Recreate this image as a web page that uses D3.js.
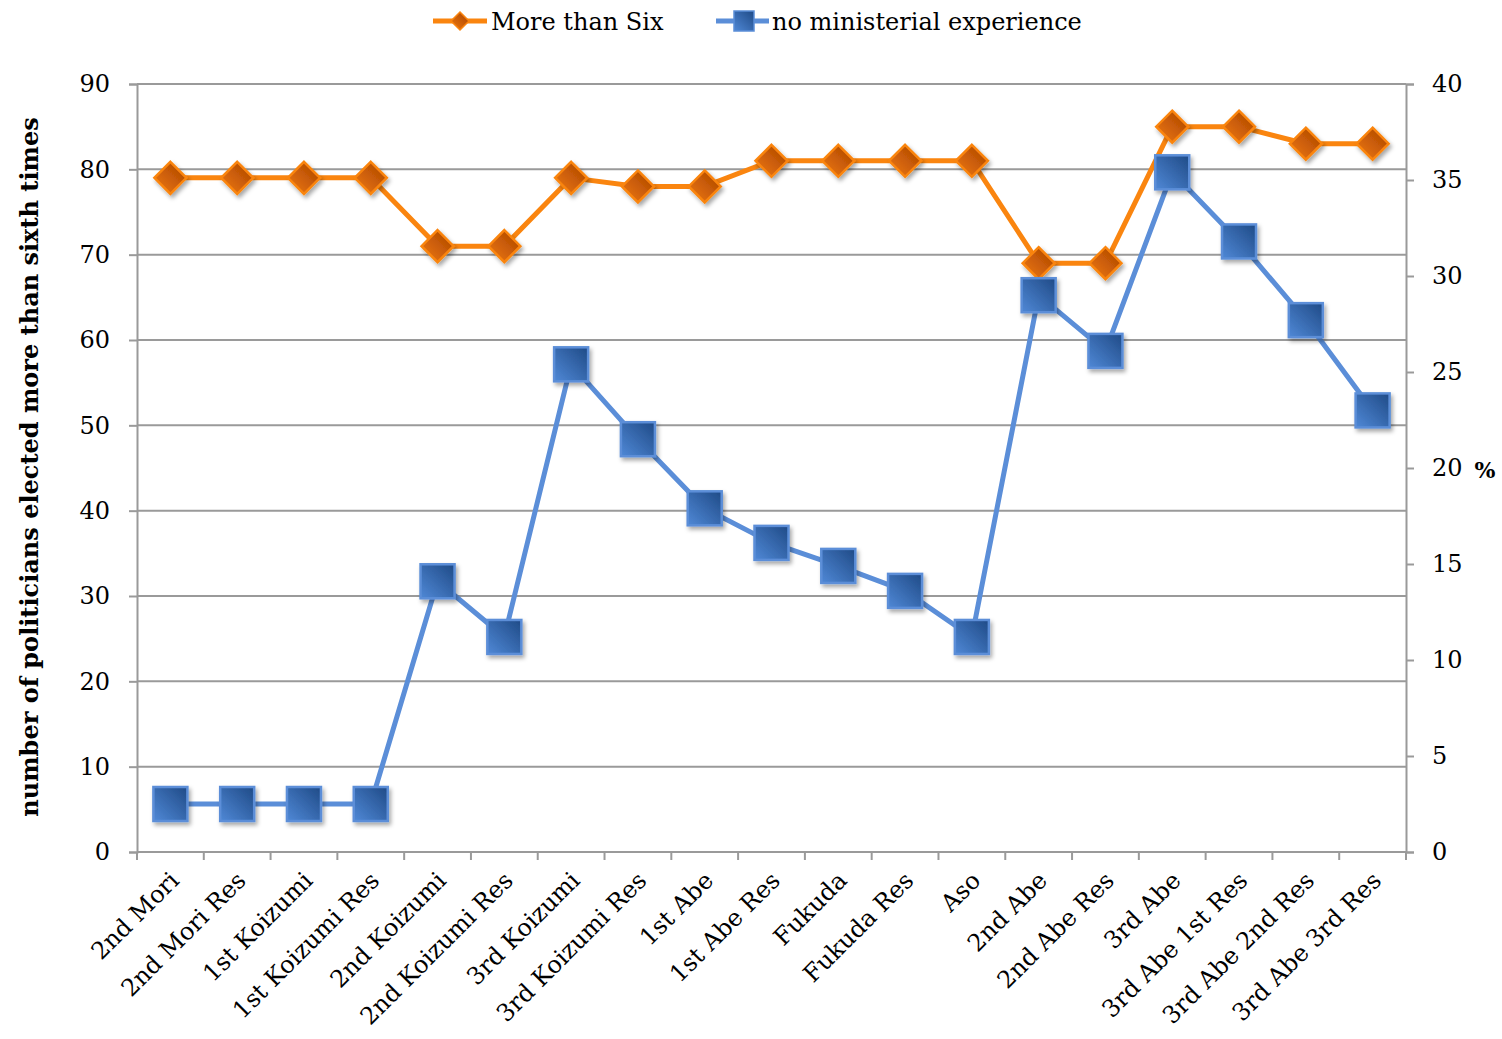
<!DOCTYPE html>
<html><head><meta charset="utf-8">
<script src="https://cdn.jsdelivr.net/npm/d3@7"></script>
<style>body{margin:0;background:#fff}svg{display:block}</style>
</head><body>
<svg id="chart" width="1502" height="1039"></svg>
<script>
const categories = ["2nd Mori","2nd Mori Res","1st Koizumi","1st Koizumi Res","2nd Koizumi","2nd Koizumi Res","3rd Koizumi","3rd Koizumi Res","1st Abe","1st Abe Res","Fukuda","Fukuda Res","Aso","2nd Abe","2nd Abe Res","3rd Abe","3rd Abe 1st Res","3rd Abe 2nd Res","3rd Abe 3rd Res"];
const moreThanSix = [79,79,79,79,71,71,79,78,78,81,81,81,81,69,69,85,85,83,83];
const noMinisterial = [2.5,2.5,2.5,2.5,14.1,11.2,25.4,21.5,17.9,16.1,14.9,13.6,11.2,29.0,26.1,35.4,31.8,27.7,23.0];
const leftTicks = [0,10,20,30,40,50,60,70,80,90];
const rightTicks = [0,5,10,15,20,25,30,35,40];
const seriesNames = ["More than Six","no ministerial experience"];

const svg = d3.select("#chart");
const font = "'DejaVu Serif', 'Liberation Serif', serif";
const m = {l:137, r:1406, t:84, b:852};
const x = d3.scaleBand().domain(categories).range([m.l, m.r]).padding(0);
const yL = d3.scaleLinear().domain([0,90]).range([m.b, m.t]);
const yR = d3.scaleLinear().domain([0,40]).range([m.b, m.t]);
const grid = "#9a9a9a";
const orange = "#FA850F", blue = "#5B8ED8";

const defs = svg.append("defs");
const gO = defs.append("linearGradient").attr("id","gO").attr("x1","0").attr("y1","1").attr("x2","1").attr("y2","0");
gO.append("stop").attr("offset","0").attr("stop-color","#F07A10");
gO.append("stop").attr("offset","1").attr("stop-color","#A84200");
const gB = defs.append("linearGradient").attr("id","gB").attr("x1","0").attr("y1","1").attr("x2","1").attr("y2","0");
gB.append("stop").attr("offset","0").attr("stop-color","#4F88D6");
gB.append("stop").attr("offset","1").attr("stop-color","#1F4A86");
const f = defs.append("filter").attr("id","sh").attr("x","-50%").attr("y","-50%").attr("width","200%").attr("height","200%");
f.append("feDropShadow").attr("dx",2).attr("dy",3).attr("stdDeviation",2).attr("flood-color","#000").attr("flood-opacity",0.35);

// gridlines
svg.append("g").selectAll("line").data(leftTicks).join("line")
  .attr("x1", m.l).attr("x2", m.r).attr("y1", d=>yL(d)).attr("y2", d=>yL(d))
  .attr("stroke", grid).attr("stroke-width", 2);

// left axis
const axL = svg.append("g").attr("transform",`translate(${m.l},0)`)
  .call(d3.axisLeft(yL).tickValues(leftTicks).tickSize(8).tickPadding(19));
axL.select(".domain").attr("stroke", grid).attr("stroke-width",2);
axL.selectAll(".tick line").attr("stroke", grid).attr("stroke-width",2);
axL.selectAll("text").attr("font-family", font).attr("font-size", 24).attr("fill","#000");

// right axis
const axR = svg.append("g").attr("transform",`translate(${m.r},0)`)
  .call(d3.axisRight(yR).tickValues(rightTicks).tickSize(8).tickPadding(18));
axR.select(".domain").attr("stroke", grid).attr("stroke-width",2);
axR.selectAll(".tick line").attr("stroke", grid).attr("stroke-width",2);
axR.selectAll("text").attr("font-family", font).attr("font-size", 24).attr("fill","#000");

// bottom axis
const boundaries = categories.map(c=>x(c)).concat([m.r]);
svg.append("line").attr("x1",m.l).attr("x2",m.r).attr("y1",m.b).attr("y2",m.b).attr("stroke",grid).attr("stroke-width",2);
svg.append("g").selectAll("line").data(boundaries).join("line")
  .attr("x1",d=>d).attr("x2",d=>d).attr("y1",m.b).attr("y2",m.b+8).attr("stroke",grid).attr("stroke-width",2);
svg.append("g").selectAll("text").data(categories).join("text")
  .attr("transform", d=>`translate(${x(d)+x.bandwidth()/2+10},${m.b+30}) rotate(-45)`)
  .attr("text-anchor","end").attr("font-family",font).attr("font-size",24).attr("fill","#000")
  .text(d=>d);

// axis titles
svg.append("text").attr("transform",`translate(38,467) rotate(-90)`).attr("text-anchor","middle")
  .attr("font-family",font).attr("font-weight","bold").attr("font-size",24).attr("fill","#000")
  .text("number of politicians elected more than sixth times");
svg.append("text").attr("x",1485).attr("y",478).attr("text-anchor","middle")
  .attr("font-family",font).attr("font-weight","bold").attr("font-size",22).attr("fill","#000").text("%");

// lines
const cx = d=>x(d)+x.bandwidth()/2;
svg.append("path").datum(moreThanSix.map((v,i)=>[cx(categories[i]), yL(v)]))
  .attr("d", d3.line()).attr("fill","none").attr("stroke",orange).attr("stroke-width",5).attr("stroke-linejoin","round");
svg.append("path").datum(noMinisterial.map((v,i)=>[cx(categories[i]), yR(v)]))
  .attr("d", d3.line()).attr("fill","none").attr("stroke",blue).attr("stroke-width",5).attr("stroke-linejoin","round");

// markers
const dia = (s)=>`M0,${-s}L${s},0L0,${s}L${-s},0Z`;
svg.append("g").selectAll("path").data(moreThanSix).join("path")
  .attr("transform",(d,i)=>`translate(${cx(categories[i])},${yL(d)})`)
  .attr("d", dia(16)).attr("fill","url(#gO)").attr("stroke",orange).attr("stroke-width",2.5).attr("filter","url(#sh)");
svg.append("g").selectAll("rect").data(noMinisterial).join("rect")
  .attr("x",(d,i)=>cx(categories[i])-17).attr("y",d=>yR(d)-17).attr("width",34).attr("height",34)
  .attr("fill","url(#gB)").attr("stroke",blue).attr("stroke-width",2.5).attr("filter","url(#sh)");

// legend
const lg = svg.append("g");
lg.append("line").attr("x1",433).attr("x2",487).attr("y1",21).attr("y2",21).attr("stroke",orange).attr("stroke-width",5);
lg.append("path").attr("transform","translate(460,21)").attr("d",dia(9)).attr("fill","url(#gO)").attr("stroke",orange).attr("stroke-width",1.5);
lg.append("text").attr("x",491).attr("y",30).attr("font-family",font).attr("font-size",24).text(seriesNames[0]);
lg.append("line").attr("x1",716).attr("x2",769).attr("y1",21).attr("y2",21).attr("stroke",blue).attr("stroke-width",5);
lg.append("rect").attr("x",734).attr("y",11).attr("width",20).attr("height",20).attr("fill","url(#gB)").attr("stroke",blue).attr("stroke-width",1.5);
lg.append("text").attr("x",772).attr("y",30).attr("font-family",font).attr("font-size",24).text(seriesNames[1]);
</script>
</body></html>
